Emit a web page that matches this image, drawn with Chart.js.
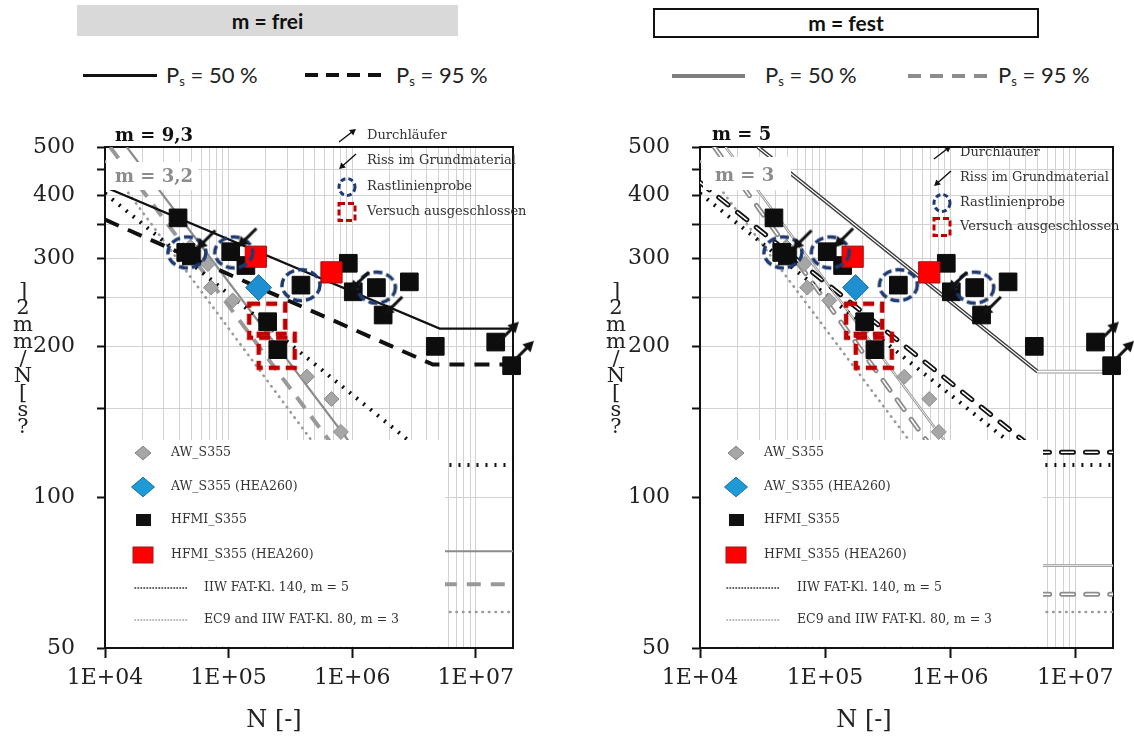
<!DOCTYPE html>
<html>
<head>
<meta charset="utf-8">
<script src="https://cdn.jsdelivr.net/npm/chart.js@4.4.1/dist/chart.umd.min.js"></script>
<style>
  body { margin: 0; width: 1134px; height: 740px; background: #fff; position: relative; overflow: hidden; }
  .panel { position: absolute; top: 0; width: 567px; height: 740px; }
  .head { position: absolute; box-sizing: border-box; text-align: center; font: bold 21px Lato, "Open Sans", sans-serif; color: #111; }
  .ps { position: absolute; top: 61px; font: 22px Lato, "Open Sans", sans-serif; color: #222; white-space: nowrap; }
  .ps sub { font-size: 13px; vertical-align: -3px; }
  .sample { position: absolute; height: 4px; }
  .ytitle { position: absolute; top: 282px; width: 26px; text-align: center; white-space: pre; font: 21px "DejaVu Serif", serif; line-height: 17px; color: #222; }
  .xtitle { position: absolute; top: 705px; font: 24px "DejaVu Serif", serif; color: #222; transform: translateX(-50%); white-space: nowrap; }
</style>
</head>
<body>

<div class="head" style="left:77px; top:5px; width:381px; height:31px; line-height:31px; background:#d9d9d9;">m = frei</div>
<div class="head" style="left:653px; top:8px; width:386px; height:30px; line-height:26px; border:2px solid #111;">m = fest</div>

<div class="sample" style="left:83px; top:74px; width:74px; height:3px; background:#111;"></div>
<div class="ps" style="left:166px;">P<sub>s</sub> = 50 %</div>
<div class="sample" style="left:305px; top:73px; width:77px; background:repeating-linear-gradient(90deg,#111 0 13px,transparent 13px 21px);"></div>
<div class="ps" style="left:396px;">P<sub>s</sub> = 95 %</div>

<div class="sample" style="left:672px; top:74px; width:73px; background:#7f7f7f;"></div>
<div class="ps" style="left:765px;">P<sub>s</sub> = 50 %</div>
<div class="sample" style="left:908px; top:74px; width:79px; background:repeating-linear-gradient(90deg,#8c8c8c 0 13px,transparent 13px 22px);"></div>
<div class="ps" style="left:998px;">P<sub>s</sub> = 95 %</div>

<div class="panel" style="left:0;"><canvas id="chartFrei" width="567" height="740"></canvas></div>
<div class="panel" style="left:567px;"><canvas id="chartFest" width="567" height="740"></canvas></div>

<div class="ytitle" style="left:10px;">]
2
m
m
/
N
[
s
?</div>
<div class="ytitle" style="left:603px;">]
2
m
m
/
N
[
s
?</div>
<div class="xtitle" style="left:274px;">N [-]</div>
<div class="xtitle" style="left:864px;">N [-]</div>

<script>
// Achsen
const xTickValues = [1e4, 1e5, 1e6, 1e7];
const xTickLabels = ["1E+04", "1E+05", "1E+06", "1E+07"];
const yTickValues = [50, 100, 150, 200, 250, 300, 350, 400, 450, 500];
const yLabelValues = [50, 100, 200, 300, 400, 500];

// Versuchsdaten (N, Spannungsschwingbreite)
const hfmiN = [3.9e4, 4.5e4, 5.0e4, 1.04e5, 1.38e5, 2.07e5, 2.5e5, 3.85e5, 9.3e5, 1.02e6, 1.57e6, 1.78e6, 2.9e6, 4.7e6, 1.45e7, 1.95e7];
const hfmiS = [361, 308, 303, 309, 290, 224, 197, 265, 293, 257, 262, 231, 269, 200, 204, 183];
const hfmiHeaN = [1.66e5, 6.8e5];
const hfmiHeaS = [302, 281];
const awN = [4.9e4, 6.8e4, 7.2e4, 1.08e5, 2.1e5, 4.3e5, 6.8e5, 8.1e5];
const awS = [316, 292, 262, 247, 218, 174, 157, 135];
const awHeaN = [1.75e5];
const awHeaS = [262];
const rastN = [4.6e4, 1.1e5, 3.85e5, 1.57e6];
const rastS = [308, 308, 265, 262];
const ausgN = [2.05e5, 2.45e5];
const ausgS = [225, 196];
const durchN = [1.85e7, 2.45e7];
const durchS = [214, 196];
const rissN = [6.6e4, 1.42e5, 1.15e6, 2.15e6];
const rissS = [327, 330, 270, 241];

// Wöhlerlinien m = frei
const freiP50N = [1e4, 5.1e6, 2e7];
const freiP50S = [416, 217, 217];
const freiP95N = [1e4, 4.5e6, 2e7];
const freiP95S = [358, 184, 184];
const awFreiP50N = [1.5e4, 4.4e6, 2e7];
const awFreiP50S = [500, 78, 78];
const awFreiP95N = [1.1e4, 4.8e6, 2e7];
const awFreiP95S = [500, 67, 67];
// Wöhlerlinien m = fest
const festP50N = [2.9e4, 5e6, 2e7];
const festP50S = [500, 178, 178];
const festP95N = [1e4, 5e6, 2e7];
const festP95S = [425, 123, 123];
const awFestP50N = [1.6e4, 5e6, 2e7];
const awFestP50S = [500, 73, 73];
const awFestP95N = [1.3e4, 5e6, 2e7];
const awFestP95S = [500, 64, 64];
// Normkurven
const fat140N = [1e4, 5e6, 2e7];
const fat140S = [404, 116, 116];
const fat80N = [1e4, 5e6, 2e7];
const fat80S = [468, 59, 59];

const xGridValues = [];
for (const d of [1e4, 1e5, 1e6, 1e7]) {
  for (let k = 1; k <= 9; k++) if (k * d <= 2e7) xGridValues.push(k * d);
}
xGridValues.push(2e7);

const isDecade = (v) => xTickValues.some((t) => Math.abs(t - v) < t * 1e-6);

// ---------------- Symbole ----------------
function arrow(g, x0, y0, x1, y1, head, lw) {
  g.save();
  g.strokeStyle = "#111";
  g.fillStyle = "#111";
  g.lineWidth = lw;
  g.setLineDash([]);
  const a = Math.atan2(y1 - y0, x1 - x0);
  g.beginPath();
  g.moveTo(x0, y0);
  g.lineTo(x1 - Math.cos(a) * head * 0.6, y1 - Math.sin(a) * head * 0.6);
  g.stroke();
  g.beginPath();
  g.moveTo(x1, y1);
  g.lineTo(x1 - head * Math.cos(a - 0.5), y1 - head * Math.sin(a - 0.5));
  g.lineTo(x1 - head * Math.cos(a + 0.5), y1 - head * Math.sin(a + 0.5));
  g.closePath();
  g.fill();
  g.restore();
}
function dashedEllipse(g, cx, cy, rx, ry, lw, dash) {
  g.save();
  g.strokeStyle = "#1f3a70";
  g.lineWidth = lw;
  g.setLineDash(dash);
  g.beginPath();
  g.ellipse(cx, cy, rx, ry, 0, 0, Math.PI * 2);
  g.stroke();
  g.restore();
}
function dashedSquare(g, cx, cy, w, h, lw, dash) {
  g.save();
  g.strokeStyle = "#c00000";
  g.lineWidth = lw;
  g.setLineDash(dash);
  g.strokeRect(cx - w / 2, cy - h / 2, w, h);
  g.restore();
}
function makeImg(w, h, draw) {
  const c = document.createElement("canvas");
  c.width = w;
  c.height = h;
  draw(c.getContext("2d"), w, h);
  return c;
}
const circleImg = makeImg(44, 38, (g, w, h) => dashedEllipse(g, w / 2, h / 2, 19, 15.5, 3.5, [9, 4]));
const squareImg = makeImg(44, 42, (g, w, h) => dashedSquare(g, w / 2, h / 2, 36, 34, 4.5, [11, 6]));
const durchImg = makeImg(26, 26, (g) => arrow(g, 4, 22, 23, 3, 12, 3));
const rissImg = makeImg(26, 26, (g) => arrow(g, 22, 4, 3, 23, 12, 3));

function pts(xs, ys) {
  return xs.map((x, i) => ({ x: x, y: ys[i] }));
}
function line(xs, ys, color, width, dash, extra) {
  return Object.assign({
    data: pts(xs, ys), showLine: true, borderColor: color, borderWidth: width,
    borderDash: dash, pointRadius: 0, fill: false, order: 10,
  }, extra || {});
}
function marks(label, xs, ys, style, radius, fill, border, order) {
  return {
    label: label, data: pts(xs, ys), pointStyle: style, pointRadius: radius,
    backgroundColor: fill, borderColor: border, borderWidth: 1, order: order, clip: false,
  };
}

// ---------------- Beschriftung im Diagramm ----------------
const deco = {
  id: "deco",
  beforeDatasetsDraw(chart) {
    const { ctx, chartArea: a } = chart;
    ctx.save();
    ctx.strokeStyle = "#111";
    ctx.lineWidth = 2;
    ctx.strokeRect(a.left, a.top, a.right - a.left, a.bottom - a.top);
    ctx.restore();
  },
  afterDatasetsDraw(chart, args, o) {
    const ctx = chart.ctx;
    ctx.save();
    // weißes Legendenfeld
    ctx.fillStyle = "#fff";
    ctx.fillRect(o.box[0], o.box[1], o.box[2], o.box[3]);
    ctx.fillRect(o.awBg[0], o.awBg[1], o.awBg[2], o.awBg[3]);

    ctx.textBaseline = "middle";
    ctx.font = 'bold 18px "DejaVu Serif", serif';
    ctx.fillStyle = "#111";
    ctx.fillText(o.slope[0], o.slope[1], o.slope[2]);
    ctx.fillStyle = "#8c8c8c";
    ctx.fillText(o.awSlope[0], o.awSlope[1], o.awSlope[2]);

    // Legende oben rechts
    const t = o.top;
    const ix = t.ix;
    arrow(ctx, ix - 8, t.ys[0] + 6, ix + 9, t.ys[0] - 7, 7, 1.4);
    arrow(ctx, ix + 9, t.ys[1] - 7, ix - 8, t.ys[1] + 8, 7, 1.4);
    dashedEllipse(ctx, ix, t.ys[2], 8, 8.5, 3, [5, 3]);
    dashedSquare(ctx, ix, t.ys[3], 16, 17, 3, [6, 3]);
    ctx.font = '13px "DejaVu Serif", serif';
    ctx.fillStyle = "#333";
    ["Durchläufer", "Riss im Grundmaterial", "Rastlinienprobe", "Versuch ausgeschlossen"].forEach((s, i) => {
      ctx.fillText(s, t.tx, t.ys[i]);
    });

    // Legende unten links
    const b = o.bottom;
    const mx = b.mx;
    const diamond = (y, r, fill, border) => {
      ctx.beginPath();
      ctx.moveTo(mx, y - r * 0.85);
      ctx.lineTo(mx + r, y);
      ctx.lineTo(mx, y + r * 0.85);
      ctx.lineTo(mx - r, y);
      ctx.closePath();
      ctx.fillStyle = fill;
      ctx.fill();
      ctx.strokeStyle = border;
      ctx.lineWidth = 1;
      ctx.stroke();
    };
    diamond(b.ys[0], 8, "#a6a6a6", "#7f7f7f");
    diamond(b.ys[1], 11.5, "#1e9ad6", "#1670a8");
    ctx.fillStyle = "#111";
    ctx.fillRect(mx - 7, b.ys[2] - 6, 15, 12);
    ctx.fillStyle = "#ff0000";
    ctx.fillRect(mx - 10, b.ys[3] - 8, 20, 16);
    ctx.strokeStyle = "#9b1b1b";
    ctx.strokeRect(mx - 10, b.ys[3] - 8, 20, 16);
    ctx.lineCap = "round";
    ctx.lineWidth = 1.6;
    ctx.setLineDash([0.5, 2.5]);
    ctx.strokeStyle = "#222";
    ctx.beginPath();
    ctx.moveTo(b.lx0, b.ys[4]);
    ctx.lineTo(b.lx1, b.ys[4]);
    ctx.stroke();
    ctx.strokeStyle = "#9a9a9a";
    ctx.beginPath();
    ctx.moveTo(b.lx0, b.ys[5]);
    ctx.lineTo(b.lx1, b.ys[5]);
    ctx.stroke();
    ctx.setLineDash([]);
    ctx.font = '12.5px "DejaVu Serif", serif';
    ctx.fillStyle = "#333";
    ["AW_S355", "AW_S355 (HEA260)", "HFMI_S355", "HFMI_S355 (HEA260)"].forEach((s, i) => {
      ctx.fillText(s, b.tx, b.ys[i]);
    });
    ctx.fillText("IIW FAT-Kl. 140, m = 5", b.ltx, b.ys[4]);
    ctx.fillText("EC9 and IIW FAT-Kl. 80, m = 3", b.ltx, b.ys[5]);
    ctx.restore();
  },
};

function pointSets() {
  return [
    marks("AW_S355", awN, awS, "rectRot", 7.5, "#a6a6a6", "#8c8c8c", 6),
    marks("HFMI_S355", hfmiN, hfmiS, "rect", 12.5, "#0d0d0d", "#0d0d0d", 5),
    marks("HFMI_S355 (HEA260)", hfmiHeaN, hfmiHeaS, "rect", 15, "#ff0000", "#a01010", 4),
    marks("AW_S355 (HEA260)", awHeaN, awHeaS, "rectRot", 13, "#1e8fd0", "#1670a8", 3),
    marks("Rastlinienprobe", rastN, rastS, circleImg, 12, "#000", "#000", 2),
    marks("Versuch ausgeschlossen", ausgN, ausgS, squareImg, 12, "#000", "#000", 2),
    marks("Durchläufer", durchN, durchS, durchImg, 13, "#000", "#000", 1),
    marks("Riss im Grundmaterial", rissN, rissS, rissImg, 13, "#000", "#000", 1),
  ];
}

function buildChart(id, lines, yWidth, padRight, decoOpts) {
  const tickFont = { family: '"DejaVu Serif", serif', size: 22 };
  return new Chart(document.getElementById(id), {
    type: "scatter",
    data: { datasets: lines.concat(pointSets()) },
    options: {
      responsive: false,
      animation: false,
      events: [],
      layout: { padding: { left: 0, top: 147, right: padRight, bottom: 0 } },
      plugins: { legend: { display: false }, tooltip: { enabled: false }, deco: decoOpts },
      scales: {
        x: {
          type: "logarithmic",
          min: 1e4,
          max: 2e7,
          afterFit: (s) => { s.height = 92; },
          afterBuildTicks: (s) => { s.ticks = xGridValues.map((v) => ({ value: v })); },
          border: { color: "#111", width: 2 },
          grid: {
            color: "#d2d2d2",
            tickLength: 10,
            tickColor: (c) => (c.tick && isDecade(c.tick.value) ? "#111" : "rgba(0,0,0,0)"),
            tickWidth: 2,
          },
          ticks: {
            autoSkip: false,
            maxRotation: 0,
            padding: 7,
            color: "#222",
            font: tickFont,
            callback: (v) => {
              const i = xTickValues.findIndex((t) => Math.abs(t - v) < t * 1e-6);
              return i >= 0 ? xTickLabels[i] : "";
            },
          },
        },
        y: {
          type: "logarithmic",
          min: 50,
          max: 500,
          afterFit: (s) => { s.width = yWidth; },
          afterBuildTicks: (s) => { s.ticks = yTickValues.map((v) => ({ value: v })); },
          border: { color: "#111", width: 2 },
          grid: { color: "#d2d2d2", tickLength: 8, tickColor: "#111", tickWidth: 2 },
          ticks: {
            autoSkip: false,
            padding: 22,
            color: "#222",
            font: tickFont,
            callback: (v) => (yLabelValues.indexOf(v) >= 0 ? String(v) : ""),
          },
        },
      },
    },
    plugins: [deco],
  });
}

// ---------------- m = frei ----------------
buildChart("chartFrei", [
  line(freiP50N, freiP50S, "#111", 2.2, []),
  line(freiP95N, freiP95S, "#111", 4, [15, 10]),
  line(fat140N, fat140S, "#111", 4, [2, 7]),
  line(awFreiP50N, awFreiP50S, "#8c8c8c", 2.2, []),
  line(awFreiP95N, awFreiP95S, "#999", 4, [14, 10]),
  line(fat80N, fat80S, "#9a9a9a", 2.6, [0.5, 6], { borderCapStyle: "round" }),
], 105, 54, {
  box: [106, 440, 339, 206],
  awBg: [106, 162, 92, 28],
  slope: ["m = 9,3", 115, 136],
  awSlope: ["m = 3,2", 115, 177],
  top: { ix: 347, tx: 367, ys: [136, 161, 187, 212] },
  bottom: { mx: 143, tx: 171, lx0: 135, lx1: 187, ltx: 204, ys: [453, 487, 520, 555, 588, 620] },
});

// ---------------- m = fest ----------------
buildChart("chartFest", [
  line(festP50N, festP50S, "#3a3a3a", 4, [], { segment: { borderColor: (c) => (c.p0DataIndex >= 1 ? "#b8b8b8" : undefined) } }),
  line(festP50N, festP50S, "#fff", 1.2, [], { order: 9 }),
  line(festP95N, festP95S, "#111", 5, [12, 12], { borderCapStyle: "round" }),
  line(festP95N, festP95S, "#fff", 1.5, [12, 12], { borderCapStyle: "round", order: 9 }),
  line(fat140N, fat140S, "#111", 4, [2, 7]),
  line(awFestP50N, awFestP50S, "#9a9a9a", 2.6, []),
  line(awFestP50N, awFestP50S, "#fff", 0.8, [], { order: 9 }),
  line(awFestP95N, awFestP95S, "#8c8c8c", 5, [12, 12], { borderCapStyle: "round" }),
  line(awFestP95N, awFestP95S, "#fff", 1.5, [12, 12], { borderCapStyle: "round", order: 9 }),
  line(fat80N, fat80S, "#9a9a9a", 2.6, [0.5, 6], { borderCapStyle: "round" }),
], 133, 21, {
  box: [134, 440, 342, 206],
  awBg: [136, 157, 88, 33],
  slope: ["m = 5", 145, 135],
  awSlope: ["m = 3", 148, 176],
  top: { ix: 375, tx: 393, ys: [153, 178, 203, 227] },
  bottom: { mx: 169, tx: 197, lx0: 160, lx1: 213, ltx: 230, ys: [453, 487, 520, 555, 588, 620] },
});
</script>
</body>
</html>
